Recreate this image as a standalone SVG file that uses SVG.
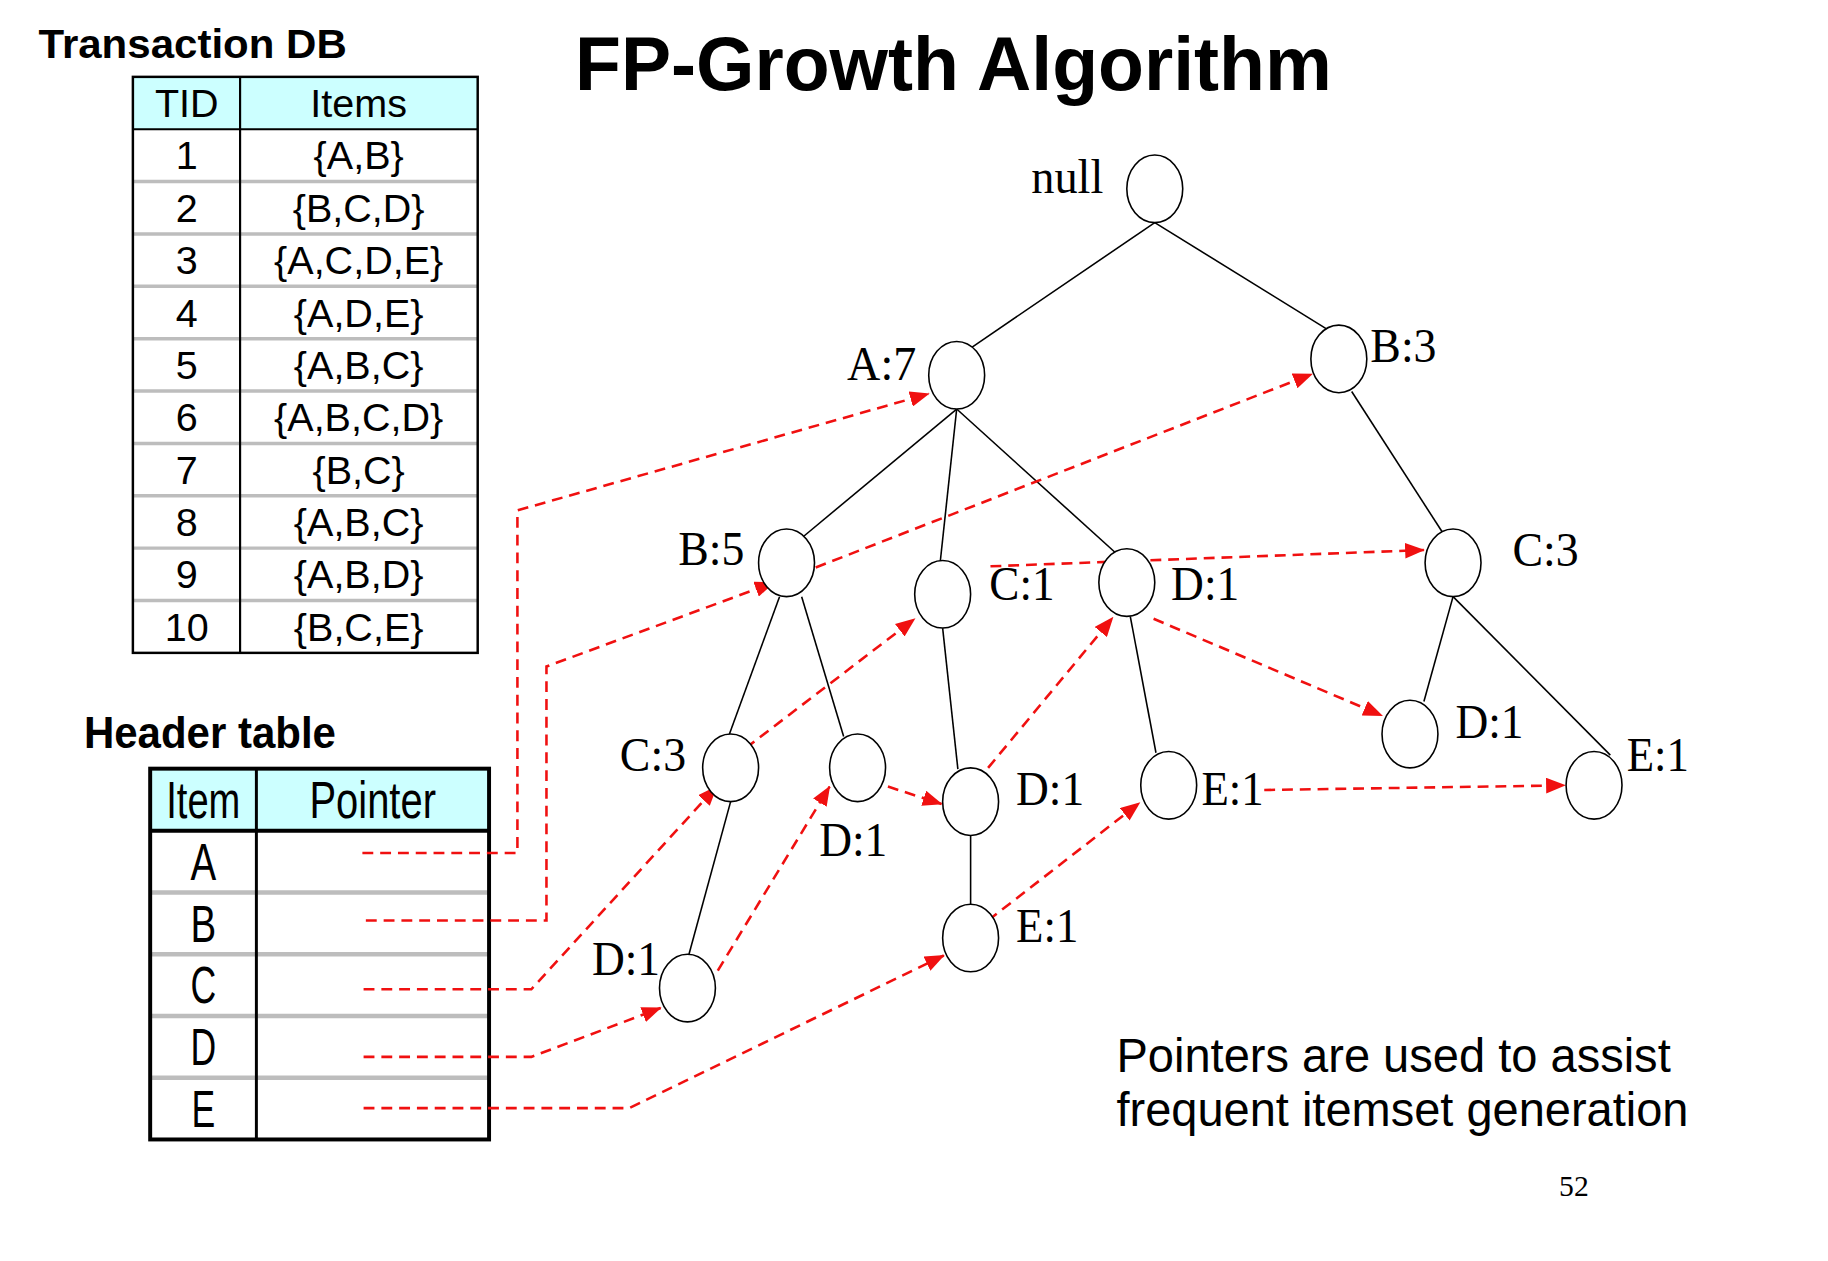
<svg xmlns="http://www.w3.org/2000/svg" width="1828" height="1261" viewBox="0 0 1828 1261">
<style>
.bold{font-family:"Liberation Sans",Arial,sans-serif;font-weight:bold;fill:#000}
.cell{font-family:"Liberation Sans",Arial,sans-serif;font-size:40px;fill:#000;text-anchor:middle}
.hcell{font-family:"Liberation Sans",Arial,sans-serif;font-size:52px;fill:#000;text-anchor:middle}
.lbl{font-family:"Liberation Serif","Times New Roman",serif;font-size:50px;fill:#000}
.node{fill:#fff;stroke:#000;stroke-width:1.6}
.edge{stroke:#000;stroke-width:1.6;fill:none}
.ptra{stroke:#F01010;stroke-width:2.6;stroke-dasharray:11 7;fill:none;marker-end:url(#ah)}
.grid{stroke:#BDBDBD;fill:none}
.note{font-family:"Liberation Sans",Arial,sans-serif;font-size:48px;fill:#000}
</style>
<defs>
<marker id="ah" markerUnits="userSpaceOnUse" markerWidth="20" markerHeight="16" refX="19" refY="8" orient="auto">
<path d="M0,0 L20,8 L0,16 z" fill="#F01010"/>
</marker>
</defs>
<rect width="1828" height="1261" fill="#fff"/>
<g transform="scale(0.988)">
<text class="bold" x="582" y="91" font-size="76" textLength="766" lengthAdjust="spacingAndGlyphs">FP-Growth Algorithm</text>

<g id="transaction-db">
<text class="bold" x="39" y="59" font-size="42" textLength="312" lengthAdjust="spacingAndGlyphs">Transaction DB</text>
<rect x="134.5" y="77.8" width="349" height="53" fill="#CCFFFF"/>
<g class="grid" stroke-width="3.5">
<line x1="134.5" y1="183.8" x2="483.5" y2="183.8"/>
<line x1="134.5" y1="236.8" x2="483.5" y2="236.8"/>
<line x1="134.5" y1="289.8" x2="483.5" y2="289.8"/>
<line x1="134.5" y1="342.8" x2="483.5" y2="342.8"/>
<line x1="134.5" y1="395.8" x2="483.5" y2="395.8"/>
<line x1="134.5" y1="448.8" x2="483.5" y2="448.8"/>
<line x1="134.5" y1="501.8" x2="483.5" y2="501.8"/>
<line x1="134.5" y1="554.8" x2="483.5" y2="554.8"/>
<line x1="134.5" y1="607.8" x2="483.5" y2="607.8"/>
</g>
<line x1="134.5" y1="130.8" x2="483.5" y2="130.8" stroke="#000" stroke-width="2.2"/>
<line x1="243" y1="77.8" x2="243" y2="660.8" stroke="#000" stroke-width="2.2"/>
<rect x="134.5" y="77.8" width="349" height="583" fill="none" stroke="#000" stroke-width="2.5"/>
<text class="cell" x="189" y="118.5">TID</text><text class="cell" x="363" y="118.5">Items</text>
<text class="cell" x="189" y="171.5">1</text><text class="cell" x="363" y="171.5">{A,B}</text>
<text class="cell" x="189" y="224.5">2</text><text class="cell" x="363" y="224.5">{B,C,D}</text>
<text class="cell" x="189" y="277.5">3</text><text class="cell" x="363" y="277.5">{A,C,D,E}</text>
<text class="cell" x="189" y="330.5">4</text><text class="cell" x="363" y="330.5">{A,D,E}</text>
<text class="cell" x="189" y="383.5">5</text><text class="cell" x="363" y="383.5">{A,B,C}</text>
<text class="cell" x="189" y="436.5">6</text><text class="cell" x="363" y="436.5">{A,B,C,D}</text>
<text class="cell" x="189" y="489.5">7</text><text class="cell" x="363" y="489.5">{B,C}</text>
<text class="cell" x="189" y="542.5">8</text><text class="cell" x="363" y="542.5">{A,B,C}</text>
<text class="cell" x="189" y="595.5">9</text><text class="cell" x="363" y="595.5">{A,B,D}</text>
<text class="cell" x="189" y="648.5">10</text><text class="cell" x="363" y="648.5">{B,C,E}</text>
</g>

<g id="header-table">
<text class="bold" x="85" y="757" font-size="44" textLength="255" lengthAdjust="spacingAndGlyphs">Header table</text>
<rect x="152" y="778" width="343" height="62.8" fill="#CCFFFF"/>
<g class="grid" stroke-width="4.5">
<line x1="152" y1="903.3" x2="495" y2="903.3"/>
<line x1="152" y1="965.8" x2="495" y2="965.8"/>
<line x1="152" y1="1028.3" x2="495" y2="1028.3"/>
<line x1="152" y1="1090.8" x2="495" y2="1090.8"/>
</g>
<line x1="152" y1="840.8" x2="495" y2="840.8" stroke="#000" stroke-width="4"/>
<line x1="259.5" y1="778" x2="259.5" y2="1153.3" stroke="#000" stroke-width="3"/>
<rect x="152" y="778" width="343" height="375.3" fill="none" stroke="#000" stroke-width="4"/>
<text class="hcell" x="205.75" y="828" textLength="75" lengthAdjust="spacingAndGlyphs">Item</text>
<text class="hcell" x="377.25" y="828" textLength="128" lengthAdjust="spacingAndGlyphs">Pointer</text>
<text class="hcell" x="205.75" y="890.6" textLength="26" lengthAdjust="spacingAndGlyphs">A</text>
<text class="hcell" x="205.75" y="953.1" textLength="26" lengthAdjust="spacingAndGlyphs">B</text>
<text class="hcell" x="205.75" y="1015.6" textLength="26" lengthAdjust="spacingAndGlyphs">C</text>
<text class="hcell" x="205.75" y="1078.1" textLength="26" lengthAdjust="spacingAndGlyphs">D</text>
<text class="hcell" x="205.75" y="1140.6" textLength="24" lengthAdjust="spacingAndGlyphs">E</text>
</g>

<g id="connectors">
<g id="tree-edges">
<line class="edge" x1="1168.8" y1="225.3" x2="983.6" y2="351.5"/>
<line class="edge" x1="1168.8" y1="225.3" x2="1342.2" y2="332.6"/>
<line class="edge" x1="968.3" y1="414" x2="813.8" y2="542.5"/>
<line class="edge" x1="968.3" y1="414" x2="951.8" y2="567.3"/>
<line class="edge" x1="968.3" y1="414" x2="1129.9" y2="560.2"/>
<line class="edge" x1="1368.1" y1="396.3" x2="1460.1" y2="539"/>
<line class="edge" x1="789" y1="603.9" x2="738.3" y2="743"/>
<line class="edge" x1="811.4" y1="603.9" x2="853.9" y2="745.4"/>
<line class="edge" x1="954.1" y1="635.7" x2="969.5" y2="778.4"/>
<line class="edge" x1="1144" y1="623.9" x2="1170" y2="761.9"/>
<line class="edge" x1="1470.7" y1="603.9" x2="1441.2" y2="710"/>
<line class="edge" x1="1470.7" y1="603.9" x2="1629.9" y2="764.3"/>
<line class="edge" x1="739.5" y1="811.4" x2="697" y2="967.1"/>
<line class="edge" x1="982.4" y1="845.6" x2="982.4" y2="916.4"/>
</g>
<g id="pointers">
<polyline class="ptra" points="366.8,863.3 523.7,863.3 523.7,516.6 940,398.6"/>
<polyline class="ptra" points="370.3,931.7 553.1,931.7 553.1,674.6 783.1,589.7"/>
<polyline class="ptra" points="368,1001.3 537.8,1001.3 725.3,796.1"/>
<polyline class="ptra" points="368,1069.7 537.8,1069.7 668.7,1020.2"/>
<polyline class="ptra" points="368,1121.6 636.9,1121.6 955.3,967.1"/>
<line class="ptra" x1="825.6" y1="574.4" x2="1328" y2="378.6"/>
<line class="ptra" x1="754.8" y1="757.2" x2="925.8" y2="626.3"/>
<line class="ptra" x1="1002.5" y1="573.2" x2="1441.2" y2="556.7"/>
<line class="ptra" x1="898.7" y1="796.1" x2="953" y2="813.8"/>
<line class="ptra" x1="1000.1" y1="777.2" x2="1126.3" y2="625.1"/>
<line class="ptra" x1="1167.6" y1="626.3" x2="1398.8" y2="724.2"/>
<line class="ptra" x1="726.5" y1="982.4" x2="839.7" y2="796.1"/>
<line class="ptra" x1="1000.1" y1="931.7" x2="1153.4" y2="812.6"/>
<line class="ptra" x1="1279.6" y1="799.6" x2="1583.9" y2="794.9"/>
</g>
</g>

<g id="n-null"><ellipse class="node" cx="1168.8" cy="191.1" rx="28.3" ry="34.2"/><text class="lbl" x="1043.8" y="195.8" textLength="73" lengthAdjust="spacingAndGlyphs">null</text></g>
<g id="n-A7"><ellipse class="node" cx="968.3" cy="379.8" rx="28.3" ry="34.2"/><text class="lbl" x="857.4" y="384.5" textLength="70" lengthAdjust="spacingAndGlyphs">A:7</text></g>
<g id="n-B3"><ellipse class="node" cx="1355.1" cy="363.3" rx="28.3" ry="34.2"/><text class="lbl" x="1387" y="366.8" textLength="67" lengthAdjust="spacingAndGlyphs">B:3</text></g>
<g id="n-B5"><ellipse class="node" cx="796.1" cy="569.7" rx="28.3" ry="34.2"/><text class="lbl" x="686.4" y="572" textLength="67" lengthAdjust="spacingAndGlyphs">B:5</text></g>
<g id="n-C1"><ellipse class="node" cx="954.1" cy="601.5" rx="28.3" ry="34.2"/><text class="lbl" x="1001.3" y="607.4" textLength="66" lengthAdjust="spacingAndGlyphs">C:1</text></g>
<g id="n-D1a"><ellipse class="node" cx="1140.5" cy="589.7" rx="28.3" ry="34.2"/><text class="lbl" x="1185.3" y="607.4" textLength="69" lengthAdjust="spacingAndGlyphs">D:1</text></g>
<g id="n-C3r"><ellipse class="node" cx="1470.7" cy="569.7" rx="28.3" ry="34.2"/><text class="lbl" x="1530.9" y="573.2" textLength="67" lengthAdjust="spacingAndGlyphs">C:3</text></g>
<g id="n-C3l"><ellipse class="node" cx="739.5" cy="777.2" rx="28.3" ry="34.2"/><text class="lbl" x="627.4" y="780.8" textLength="67" lengthAdjust="spacingAndGlyphs">C:3</text></g>
<g id="n-D1b"><ellipse class="node" cx="868" cy="777.2" rx="28.3" ry="34.2"/><text class="lbl" x="829.1" y="866.9" textLength="69" lengthAdjust="spacingAndGlyphs">D:1</text></g>
<g id="n-D1c"><ellipse class="node" cx="982.4" cy="811.4" rx="28.3" ry="34.2"/><text class="lbl" x="1028.4" y="815" textLength="69" lengthAdjust="spacingAndGlyphs">D:1</text></g>
<g id="n-E1a"><ellipse class="node" cx="1182.9" cy="794.9" rx="28.3" ry="34.2"/><text class="lbl" x="1216" y="815" textLength="63" lengthAdjust="spacingAndGlyphs">E:1</text></g>
<g id="n-D1r"><ellipse class="node" cx="1427.1" cy="743" rx="28.3" ry="34.2"/><text class="lbl" x="1473.1" y="746.6" textLength="69" lengthAdjust="spacingAndGlyphs">D:1</text></g>
<g id="n-E1r"><ellipse class="node" cx="1613.4" cy="794.9" rx="28.3" ry="34.2"/><text class="lbl" x="1646.4" y="780.8" textLength="63" lengthAdjust="spacingAndGlyphs">E:1</text></g>
<g id="n-D1l"><ellipse class="node" cx="695.8" cy="1000.1" rx="28.3" ry="34.2"/><text class="lbl" x="599.1" y="987.2" textLength="69" lengthAdjust="spacingAndGlyphs">D:1</text></g>
<g id="n-E1c"><ellipse class="node" cx="982.4" cy="949.4" rx="28.3" ry="34.2"/><text class="lbl" x="1028.4" y="953" textLength="63" lengthAdjust="spacingAndGlyphs">E:1</text></g>

<text class="note" x="1130" y="1085" textLength="561" lengthAdjust="spacingAndGlyphs">Pointers are used to assist</text>
<text class="note" x="1130" y="1140" textLength="579" lengthAdjust="spacingAndGlyphs">frequent itemset generation</text>
<text x="1578" y="1211" font-family="'Liberation Serif','Times New Roman',serif" font-size="30">52</text>
</g>
</svg>
